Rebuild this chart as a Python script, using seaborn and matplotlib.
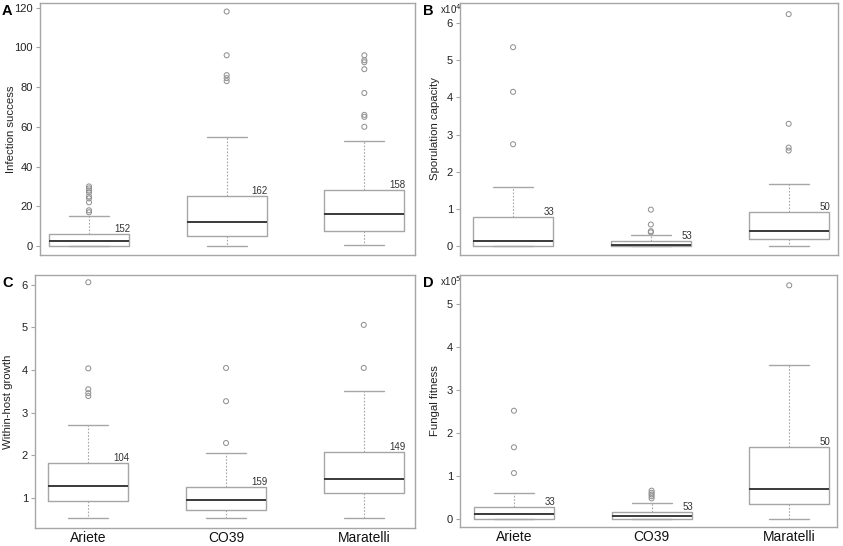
import matplotlib
matplotlib.use("Agg")
import matplotlib.pyplot as plt
import seaborn as sns
import pandas as pd

sns.set_theme(style="white")
plt.rcParams['font.family'] = ['Liberation Sans', 'DejaVu Sans']

categories = ["Ariete", "CO39", "Maratelli"]

# Panel A: Infection success
med_A = [2.5, 12, 16]
q1_A = [0, 5, 7.4]
q3_A = [5.9, 25, 28.2]
lo_A = [0, 0, 0.3]
hi_A = [15, 55, 53]
fl_A = [[17, 18, 22, 24, 25, 27, 28, 29, 30], [83, 84.5, 86, 96, 118],
        [60, 65, 66, 77, 89, 92.5, 93.5, 96]]
n_A = [152, 162, 158]

# Panel B: Sporulation capacity (x10^4)
med_B = [0.13, 0.03, 0.40]
q1_B = [0, 0, 0.19]
q3_B = [0.79, 0.13, 0.91]
lo_B = [0, 0, 0]
hi_B = [1.58, 0.30, 1.67]
fl_B = [[2.74, 4.15, 5.35], [0.37, 0.40, 0.58, 0.98], [2.57, 2.65, 3.29, 6.24]]
n_B = [33, 53, 50]

# Panel C: Within-host growth
med_C = [1.27, 0.95, 1.44]
q1_C = [0.94, 0.71, 1.11]
q3_C = [1.83, 1.26, 2.08]
lo_C = [0.54, 0.54, 0.54]
hi_C = [2.71, 2.05, 3.5]
fl_C = [[3.39, 3.46, 3.55, 4.04, 6.06], [2.29, 3.27, 4.05], [4.05, 5.06]]
n_C = [104, 159, 149]

# Panel D: Fungal fitness (x10^5)
med_D = [0.124, 0.08, 0.71]
q1_D = [0, 0, 0.36]
q3_D = [0.28, 0.155, 1.68]
lo_D = [0, 0, 0]
hi_D = [0.6, 0.365, 3.59]
fl_D = [[1.07, 1.67, 2.52], [0.48, 0.53, 0.57, 0.61, 0.66], [5.44]]
n_D = [33, 53, 50]

EDGE = '#a6a6a6'
MED = '#3a3a3a'

fig = plt.figure(figsize=(8.43, 5.46), dpi=100)
W, H = 843, 546

def add_ax(l, t, r, b):
    return fig.add_axes([l / W, 1 - b / H, (r - l) / W, (b - t) / H])

panels = [
    dict(box=(40, 3, 415, 255), med=med_A, q1=q1_A, q3=q3_A, lo=lo_A, hi=hi_A, fl=fl_A, n=n_A,
         ylabel="Infection success", ylim=(-4.5, 122.3), yticks=[0, 20, 40, 60, 80, 100, 120],
         xlim=(0.644, 3.368), letter="A", letter_x=2, exp=None, bottom=False, ylab_x=11),
    dict(box=(460, 3, 838, 255), med=med_B, q1=q1_B, q3=q3_B, lo=lo_B, hi=hi_B, fl=fl_B, n=n_B,
         ylabel="Sporulation capacity", ylim=(-0.24, 6.54), yticks=[0, 1, 2, 3, 4, 5, 6],
         xlim=(0.615, 3.358), letter="B", letter_x=423, exp="4", bottom=False, ylab_x=436),
    dict(box=(35, 275, 415, 528), med=med_C, q1=q1_C, q3=q3_C, lo=lo_C, hi=hi_C, fl=fl_C, n=n_C,
         ylabel="Within-host growth", ylim=(0.296, 6.23), yticks=[1, 2, 3, 4, 5, 6],
         xlim=(0.613, 3.372), letter="C", letter_x=2, exp=None, bottom=True, ylab_x=9),
    dict(box=(460, 275, 837, 527), med=med_D, q1=q1_D, q3=q3_D, lo=lo_D, hi=hi_D, fl=fl_D, n=n_D,
         ylabel="Fungal fitness", ylim=(-0.186, 5.68), yticks=[0, 1, 2, 3, 4, 5],
         xlim=(0.608, 3.347), letter="D", letter_x=423, exp="5", bottom=True, ylab_x=436),
]

positions = [1, 2, 3]
for p in panels:
    l, t, r, b = p['box']
    ax = add_ax(l, t, r, b)
    stats = []
    for i, c in enumerate(categories):
        stats.append(dict(label=c, med=p['med'][i], q1=p['q1'][i], q3=p['q3'][i],
                          whislo=p['lo'][i], whishi=p['hi'][i], fliers=[]))
    ax.bxp(stats, positions=positions, widths=0.58, showfliers=False, capwidths=0.29,
           boxprops=dict(color=EDGE, linewidth=1.0),
           whiskerprops=dict(color=EDGE, linewidth=0.8, linestyle=(0, (1.5, 1.5))),
           capprops=dict(color=EDGE, linewidth=1.0),
           medianprops=dict(color=MED, linewidth=1.4))
    rows = []
    for i, c in enumerate(categories):
        for v in p['fl'][i]:
            rows.append({'x': positions[i], 'y': v})
    df = pd.DataFrame(rows)
    sns.scatterplot(data=df, x='x', y='y', ax=ax, marker='o', s=13,
                    facecolor='none', edgecolor='#939393', linewidth=0.75, legend=False)
    for i in range(3):
        ax.text(positions[i] + 0.29 + 0.01, p['q3'][i], str(p['n'][i]), ha='right', va='bottom',
                fontsize=7, color='#333333')
    ax.set_xlim(*p['xlim'])
    ax.set_ylim(*p['ylim'])
    ax.set_yticks(p['yticks'])
    ax.set_yticklabels([str(t) for t in p['yticks']], fontsize=8, color='#222222')
    ax.set_xticks(positions)
    if p['bottom']:
        ax.set_xticklabels(categories, fontsize=10, color='#111111')
    else:
        ax.set_xticklabels([])
    ax.tick_params(axis='x', length=0, pad=2)
    ax.tick_params(axis='y', length=3, width=0.8, color=EDGE, pad=2, left=True)
    ax.set_xlabel("")
    ax.set_ylabel(p['ylabel'], fontsize=8.2, color='#222222')
    ax.yaxis.set_label_coords((p['ylab_x'] + 4.5 - l) / (r - l), 0.5)
    for s in ax.spines.values():
        s.set_visible(True)
        s.set_color(EDGE)
        s.set_linewidth(1.0)
    fig.text(p['letter_x'] / W, 1 - (t + 1) / H, p['letter'], fontsize=10.5, fontweight='bold',
             ha='left', va='top', color='#000000')
    if p['exp']:
        fig.text(440 / W, 1 - (t - 1) / H, "x10$^{%s}$" % p['exp'], fontsize=7,
                 ha='left', va='top', color='#222222')

fig.savefig("out.png", dpi=100)
